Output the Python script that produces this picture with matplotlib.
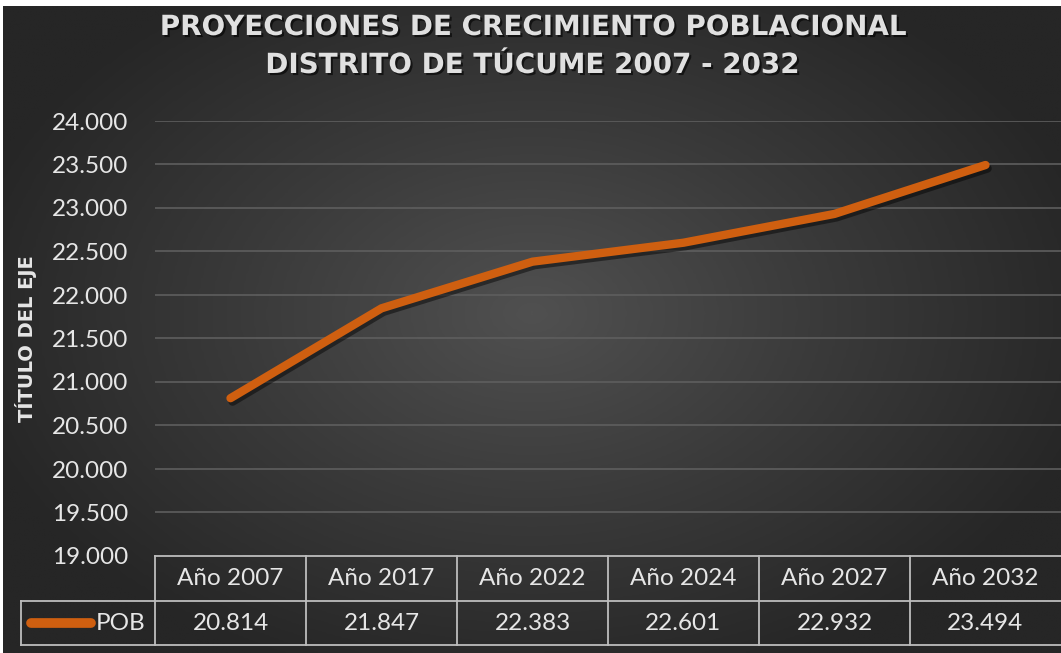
import matplotlib
matplotlib.use("Agg")
import matplotlib.pyplot as plt
import matplotlib.patheffects as pe
import matplotlib.transforms as mtransforms
import numpy as np

# datos de la proyeccion
anios = ["Año 2007", "Año 2017", "Año 2022", "Año 2024", "Año 2027", "Año 2032"]
pob = [20814, 21847, 22383, 22601, 22932, 23494]
serie = "POB"
yticks = np.arange(19000, 24001, 500)

naranja = "#CF5F10"
texto = "#E6E6E6"
borde = "#BDBDBD"

def miles(v):
    return f"{v:,.0f}".replace(",", ".")

W, H = 1061, 653
fig = plt.figure(figsize=(W / 100, H / 100), dpi=100, facecolor="white")

# fondo con degradado radial
bg = fig.add_axes([3 / W, 0, 1 - 3 / W, 1 - 6 / H], zorder=-10)
gx, gy = np.meshgrid(np.linspace(-1, 1, 400), np.linspace(-1, 1, 300))
r = np.sqrt((gx / 1.1) ** 2 + ((gy + 0.05) / 1.2) ** 2)
grad = np.clip(1 - r, 0, 1)
bg.imshow(grad, cmap=matplotlib.colors.LinearSegmentedColormap.from_list(
    "fondo", ["#262626", "#3a3a3a", "#505050"]), aspect="auto",
    extent=[0, 1, 0, 1], interpolation="bilinear")
bg.set_xlim(0, 1)
bg.set_ylim(0, 1)
bg.axis("off")

left, right, top, bottom = 155, 1061, 121, 556
ax = fig.add_axes([left / W, 1 - bottom / H, (right - left) / W, (bottom - top) / H])
ax.patch.set_alpha(0)

x = np.arange(len(anios))
ax.plot(x, pob, color=naranja, lw=6, solid_capstyle="round", solid_joinstyle="round",
        zorder=5, path_effects=[pe.SimpleLineShadow(offset=(1.5, -2.5), shadow_color="black", alpha=0.45),
                                pe.Normal()])

ax.set_xlim(-0.5, len(anios) - 0.5)
ax.set_ylim(19000, 24000)
ax.set_yticks(yticks)
ax.set_yticklabels([miles(v) for v in yticks], family="Lato", fontsize=17.5, color=texto)
ax.tick_params(axis="y", length=0, pad=19.5)
ax.set_xticks([])
for s in ax.spines.values():
    s.set_visible(False)
for v in yticks[1:]:
    ax.axhline(v, color="#5E5E5E", lw=1.2, zorder=1)

fig.text(26 / W, 1 - 339 / H, "TÍTULO DEL EJE", rotation=90, ha="center", va="center",
         fontsize=14, fontweight="bold", color=texto, family="DejaVu Sans Condensed")

# titulo
sombra = [pe.withSimplePatchShadow(offset=(1.5, -1.5), shadow_rgbFace="black", alpha=0.6)]
for txt, yy in [("PROYECCIONES DE CRECIMIENTO POBLACIONAL", 27),
                ("DISTRITO DE TÚCUME 2007 - 2032", 65)]:
    fig.text(532 / W, 1 - yy / H, txt, ha="center", va="center", fontsize=20,
             fontweight="bold", color="#E0E0E0", family="DejaVu Sans", path_effects=sombra)

# tabla de datos bajo el eje
trans = mtransforms.blended_transform_factory(ax.transData, fig.transFigure)
y_top, y_mid, y_bot = 1 - 556 / H, 1 - 601 / H, 1 - 645 / H
x_lab = -0.5 - (155 - 21) / 151
xe = len(anios) - 0.5
kw = dict(color=borde, lw=1.3, transform=trans, clip_on=False)
ax.plot([-0.5, xe], [y_top, y_top], **kw)
ax.plot([x_lab, xe], [y_mid, y_mid], **kw)
ax.plot([x_lab, xe], [y_bot, y_bot], **kw)
ax.plot([x_lab, x_lab], [y_mid, y_bot], **kw)
for k in range(len(anios)):
    ax.plot([k - 0.5, k - 0.5], [y_top, y_bot], **kw)
    ax.text(k, (y_top + y_mid) / 2, anios[k], ha="center", va="center", fontsize=17.5,
            family="Lato", color=texto, transform=trans)
    ax.text(k, (y_mid + y_bot) / 2, miles(pob[k]), ha="center", va="center", fontsize=17.5,
            family="Lato", color=texto, transform=trans)

# clave de la serie
ax.plot([x_lab + 10 / 151, x_lab + 70 / 151], [(y_mid + y_bot) / 2] * 2, color=naranja, lw=7,
        solid_capstyle="round", transform=trans, clip_on=False)
ax.text(-0.5 - 9 / 151, (y_mid + y_bot) / 2, serie, ha="right", va="center", fontsize=17.5,
        family="Lato", color=texto, transform=trans)

fig.savefig("out.png", dpi=100, facecolor="white")
